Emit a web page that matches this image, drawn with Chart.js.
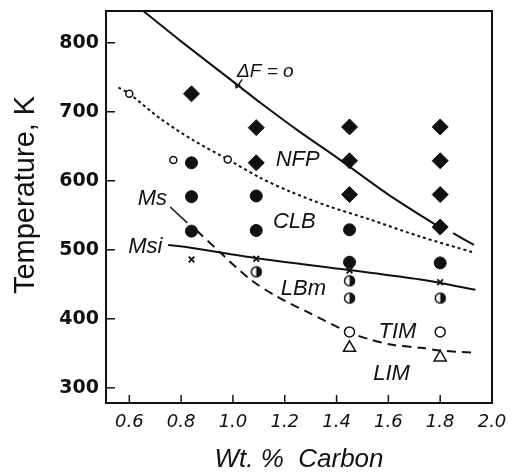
<!DOCTYPE html>
<html>
<head>
<meta charset="utf-8">
<script src="https://cdn.jsdelivr.net/npm/chart.js@4.4.0/dist/chart.umd.min.js"></script>
<style>
html, body { margin: 0; padding: 0; background: #fff; }
#wrap { width: 520px; height: 473px; }
</style>
</head>
<body>
<div id="wrap"><canvas id="myChart" width="520" height="473"></canvas></div>
<script>
// tick labels
var xTicks = [0.6, 0.8, 1.0, 1.2, 1.4, 1.6, 1.8, 2.0];
var yTicks = [300, 400, 500, 600, 700, 800];

// measured points: [wt.% C, temperature K]
var diamondPts = [[0.84, 726], [1.09, 677], [1.09, 626], [1.45, 678], [1.45, 629], [1.45, 580],
                  [1.8, 678], [1.8, 629], [1.8, 580], [1.8, 533]];
var filledPts = [[0.84, 626], [0.84, 577], [0.84, 527], [1.09, 578], [1.09, 528],
                 [1.45, 529], [1.45, 482], [1.8, 481]];
var smallOpenPts = [[0.6, 726], [0.77, 630], [0.98, 631]];
var openPts = [[1.45, 381], [1.8, 381]];
var trianglePts = [[1.45, 358], [1.8, 344]];
var crossPts = [[0.84, 486], [1.09, 487], [1.45, 470], [1.8, 453]];
var halfPts = [[1.09, 468], [1.45, 455], [1.45, 430], [1.8, 430]];

// curves
var deltaF = [[0.654, 846], [0.8, 802], [1.017, 739], [1.106, 713], [1.25, 673], [1.415, 630], [1.6, 580], [1.8, 532]];
var deltaFExt = [[1.85, 524], [1.93, 507]];
var nfpLine = [[0.558, 735], [0.6, 726], [0.72, 690], [0.85, 658], [0.98, 631], [1.107, 604], [1.223, 584],
               [1.37, 563], [1.52, 545], [1.724, 519], [1.93, 496]];
var msLine = [[0.86, 528], [0.951, 496], [1.067, 457], [1.171, 432], [1.287, 410], [1.445, 381],
              [1.53, 370], [1.62, 362], [1.724, 358], [1.8, 354], [1.92, 351]];
var msLeader = [[0.758, 562], [0.824, 539]];
var msiLine = [[0.75, 507], [0.836, 503], [1.087, 488], [1.44, 471], [1.724, 457], [1.936, 442]];

// region labels [text, x, y]
var regionLabels = [
    ['NFP', 1.25, 630], ['CLB', 1.237, 541], ['LBm', 1.272, 443],
    ['TIM', 1.635, 381], ['LIM', 1.612, 320], ['Ms', 0.689, 574], ['Msi', 0.662, 504]
];

function pts(arr) {
    return arr.map(function (p) { return { x: p[0], y: p[1] }; });
}

function halfCircle(r) {
    var c = document.createElement('canvas');
    c.width = 2 * r + 4; c.height = 2 * r + 4;
    var g = c.getContext('2d');
    var m = r + 2;
    g.fillStyle = '#fff';
    g.beginPath(); g.arc(m, m, r, 0, Math.PI * 2); g.fill();
    g.fillStyle = '#111';
    g.beginPath(); g.moveTo(m, m - r); g.arc(m, m, r, -Math.PI / 2, Math.PI / 2); g.closePath(); g.fill();
    g.strokeStyle = '#111'; g.lineWidth = 1.5;
    g.beginPath(); g.arc(m, m, r - 0.5, 0, Math.PI * 2); g.stroke();
    return c;
}

function lineSet(arr, dash, width) {
    return {
        data: pts(arr), showLine: true, pointRadius: 0, borderColor: '#111',
        borderWidth: width || 2, borderDash: dash || [], fill: false, order: 2, tension: 0.3
    };
}

function pointSet(arr, style, radius, bg, bw) {
    return {
        data: pts(arr), showLine: false, pointStyle: style, pointRadius: radius,
        pointBackgroundColor: bg, pointBorderColor: '#111', pointBorderWidth: bw, order: 1
    };
}

var extras = {
    id: 'extras',
    afterDraw: function (chart) {
        var ctx = chart.ctx, a = chart.chartArea;
        var xs = chart.scales.x, ys = chart.scales.y;
        ctx.save();
        ctx.strokeStyle = '#111';
        ctx.lineWidth = 2;
        ctx.strokeRect(a.left, a.top, a.right - a.left, a.bottom - a.top);
        // inward tick marks
        ctx.lineWidth = 1.5;
        xTicks.forEach(function (v) {
            var px = xs.getPixelForValue(v);
            ctx.beginPath(); ctx.moveTo(px, a.bottom); ctx.lineTo(px, a.bottom - 8); ctx.stroke();
        });
        yTicks.forEach(function (v) {
            var py = ys.getPixelForValue(v);
            ctx.beginPath(); ctx.moveTo(a.left, py); ctx.lineTo(a.left + 9, py); ctx.stroke();
        });
        // region labels
        ctx.fillStyle = '#111';
        ctx.textAlign = 'center';
        ctx.textBaseline = 'middle';
        ctx.font = 'italic 22px "Liberation Sans", Arial, sans-serif';
        regionLabels.forEach(function (l) {
            ctx.fillText(l[0], xs.getPixelForValue(l[1]), ys.getPixelForValue(l[2]));
        });
        ctx.font = 'italic 19px "Liberation Sans", Arial, sans-serif';
        ctx.fillText('\u0394F = o', xs.getPixelForValue(1.125), ys.getPixelForValue(758));
        // little arrow from the label to the curve
        ctx.lineWidth = 1.5;
        var x0 = xs.getPixelForValue(1.036), y0 = ys.getPixelForValue(747);
        var x1 = xs.getPixelForValue(1.013), y1 = ys.getPixelForValue(735);
        ctx.beginPath(); ctx.moveTo(x0, y0); ctx.lineTo(x1, y1); ctx.stroke();
        ctx.beginPath(); ctx.moveTo(x1 - 1, y1 - 5); ctx.lineTo(x1, y1); ctx.lineTo(x1 + 4, y1 - 3); ctx.stroke();
        ctx.restore();
    }
};

var ctx = document.getElementById('myChart').getContext('2d');
var myChart = new Chart(ctx, {
    type: 'scatter',
    data: {
        datasets: [
            lineSet(deltaF, [], 2),
            lineSet(deltaFExt, [], 2),
            lineSet(nfpLine, [3, 3], 2),
            lineSet(msLine, [9, 6], 2),
            lineSet(msLeader, [], 1.5),
            lineSet(msiLine, [], 2),
            pointSet(diamondPts, 'rectRot', 8, '#111', 1),
            pointSet(filledPts, 'circle', 6, '#111', 1),
            pointSet(smallOpenPts, 'circle', 3.5, '#fff', 1.5),
            pointSet(openPts, 'circle', 5, '#fff', 1.5),
            pointSet(trianglePts, 'triangle', 7, '#fff', 1.5),
            pointSet(crossPts, 'crossRot', 4, '#111', 1.8),
            pointSet(halfPts, halfCircle(5.5), 6, '#111', 1)
        ]
    },
    options: {
        responsive: false,
        animation: false,
        devicePixelRatio: 1,
        layout: { padding: { top: 11, right: 28, left: 0, bottom: 0 } },
        plugins: { legend: { display: false }, tooltip: { enabled: false } },
        scales: {
            x: {
                type: 'linear', min: 0.51, max: 2.0,
                afterFit: function (s) { s.height = 70; s.paddingLeft = 0; s.paddingRight = 0; },
                afterBuildTicks: function (s) { s.ticks = xTicks.map(function (v) { return { value: v }; }); },
                grid: { display: false, drawTicks: false },
                border: { display: true, color: '#111', width: 2 },
                ticks: {
                    padding: 9, color: '#111',
                    font: { family: '"DejaVu Sans", sans-serif', size: 18, style: 'italic' },
                    callback: function (v) { return v.toFixed(1); }
                },
                title: {
                    display: true, text: 'Wt. %  Carbon', color: '#111',
                    font: { family: '"Liberation Sans", Arial, sans-serif', size: 26, style: 'italic', lineHeight: 1 },
                    padding: { top: 0, bottom: 0 }
                }
            },
            y: {
                type: 'linear', min: 278, max: 846,
                afterFit: function (s) { s.width = 106; s.paddingTop = 0; s.paddingBottom = 0; },
                afterBuildTicks: function (s) { s.ticks = yTicks.map(function (v) { return { value: v }; }); },
                grid: { display: false, drawTicks: false },
                border: { display: true, color: '#111', width: 2 },
                ticks: {
                    padding: 7, color: '#111',
                    font: { family: '"DejaVu Sans", sans-serif', size: 19, weight: 'bold' }
                },
                title: {
                    display: true, text: '   Temperature, K', color: '#111',
                    font: { family: '"Liberation Sans", Arial, sans-serif', size: 29 },
                    padding: { top: 9, bottom: 0 }
                }
            }
        }
    },
    plugins: [extras]
});
</script>
</body>
</html>
